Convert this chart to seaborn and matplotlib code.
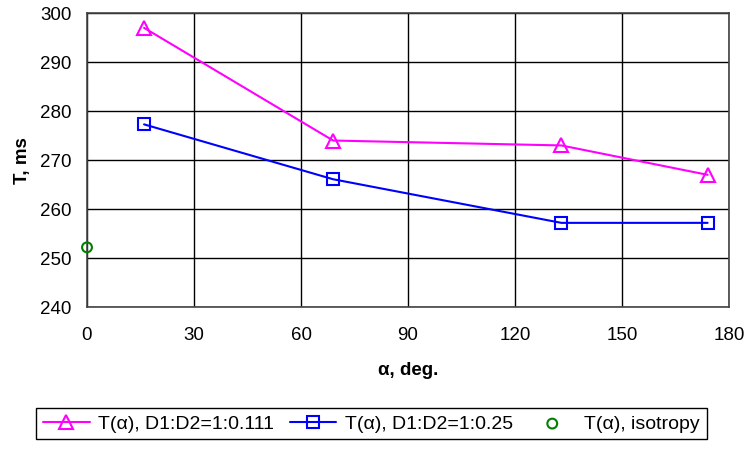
import matplotlib
matplotlib.use("Agg")
import matplotlib.pyplot as plt
import seaborn as sns
import pandas as pd

alpha_a = [16, 69, 133, 174]
T_a = [297, 274, 273, 267]
alpha_b = [16, 69, 133, 174]
T_b = [277.3, 266.1, 257.2, 257.2]
alpha_iso = [0]
T_iso = [252.2]
labels = ["T(α), D1:D2=1:0.111", "T(α), D1:D2=1:0.25", "T(α), isotropy"]

sns.set_style("white")
plt.rcParams['font.family'] = ['Liberation Sans', 'DejaVu Sans']
plt.rcParams['text.color'] = 'black'
plt.rcParams['axes.labelcolor'] = 'black'
plt.rcParams['xtick.color'] = 'black'
plt.rcParams['ytick.color'] = 'black'

fig = plt.figure(figsize=(7.5, 4.53), dpi=100)
ax = fig.add_axes([0.116, 0.322, 0.856, 0.649])

df_a = pd.DataFrame({"x": alpha_a, "y": T_a})
df_b = pd.DataFrame({"x": alpha_b, "y": T_b})
df_i = pd.DataFrame({"x": alpha_iso, "y": T_iso})

sns.lineplot(data=df_a, x="x", y="y", ax=ax, color="#ff00ff", lw=1.5,
             marker="^", markersize=10, markerfacecolor="none",
             markeredgecolor="#ff00ff", markeredgewidth=1.5, label=labels[0])
sns.lineplot(data=df_b, x="x", y="y", ax=ax, color="#0000ff", lw=1.5,
             marker="s", markersize=9, markerfacecolor="none",
             markeredgecolor="#0000ff", markeredgewidth=1.5, label=labels[1])
sns.scatterplot(data=df_i, x="x", y="y", ax=ax, marker="o", s=50,
                facecolor="none", edgecolor="#008000", linewidth=1.5,
                label=labels[2], zorder=5, clip_on=False)

ax.set_xlim(0, 180)
ax.set_ylim(240, 300)
ax.set_xticks(range(0, 181, 30))
ax.set_yticks(range(240, 301, 10))
ax.grid(True, color="black", lw=1)
for s in ax.spines.values():
    s.set_color("#444444")
    s.set_linewidth(1.2)
ax.tick_params(axis="x", labelsize=13.5, length=0, pad=14)
ax.tick_params(axis="y", labelsize=13.5, length=0, pad=11)
ax.set_xlabel("α, deg.", fontsize=13.5, fontweight="bold", labelpad=13)
ax.set_ylabel("T, ms", fontsize=13.5, fontweight="bold", labelpad=7)

ax.legend(loc="upper center", bbox_to_anchor=(0.443, -0.344), ncol=3,
          fontsize=14, frameon=True, fancybox=False, edgecolor="black",
          framealpha=1, handlelength=2.4, handletextpad=0.45,
          columnspacing=0.8, borderpad=0.35, borderaxespad=0)

fig.savefig("out.png", dpi=100)
